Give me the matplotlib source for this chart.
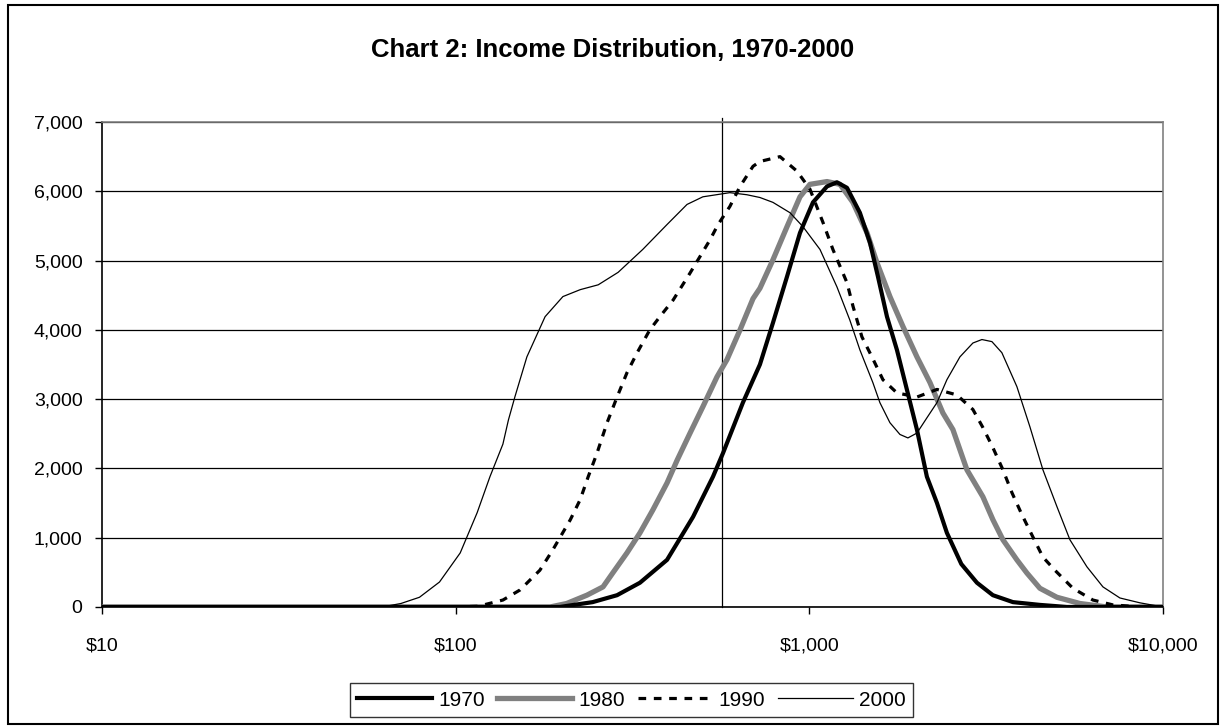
import matplotlib
matplotlib.use("Agg")
import matplotlib.pyplot as plt
from matplotlib.patches import Rectangle
from matplotlib.ticker import FixedLocator, FuncFormatter, NullLocator

plt.rcParams['font.family'] = ['Liberation Sans', 'DejaVu Sans']

# income ($, log scale) and counts
inc_1970 = [10, 100, 197, 244, 286, 332, 396, 469, 534, 570, 649, 725, 789, 865, 941,
            1024, 1122, 1197, 1278, 1390, 1484, 1563, 1658, 1769, 1887, 2015, 2150,
            2296, 2449, 2690, 2978, 3304, 3765, 4487, 5350, 10000]
val_1970 = [0, 0, 0, 70, 170, 350, 680, 1300, 1880, 2220, 2950, 3500, 4100, 4770, 5400,
            5840, 6070, 6130, 6050, 5690, 5260, 4770, 4190, 3710, 3140, 2560, 1880,
            1500, 1070, 620, 350, 170, 70, 30, 0, 0]

inc_1980 = [10, 100, 185, 206, 235, 261, 278, 305, 332, 361, 396, 423, 460, 500, 548,
            585, 637, 693, 725, 789, 865, 941, 1004, 1122, 1221, 1328, 1456, 1553, 1690,
            1839, 2015, 2193, 2386, 2547, 2790, 3096, 3304, 3527, 3863, 4123, 4487, 5012,
            5824, 6940, 10000]
val_1980 = [0, 0, 0, 50, 170, 290, 490, 780, 1070, 1400, 1790, 2120, 2510, 2890, 3320,
            3570, 4000, 4450, 4600, 5010, 5490, 5920, 6100, 6140, 6100, 5840, 5400, 4970, 4480,
            4050, 3610, 3240, 2800, 2560, 1980, 1590, 1260, 970, 680, 490, 270, 140,
            50, 0, 0]

inc_1990 = [10, 100, 115, 120, 136, 152, 173, 188, 211, 225, 237, 251, 268, 286, 305,
            326, 354, 378, 412, 460, 491, 524, 552, 596, 637, 693, 725, 826, 923, 1004,
            1093, 1166, 1278, 1329, 1408, 1503, 1615, 1769, 2015, 2296, 2614, 2901, 3096,
            3304, 3527, 3740, 3993, 4259, 4576, 4948, 5564, 6337, 7217, 8603, 10000]
val_1990 = [0, 0, 10, 30, 100, 245, 530, 820, 1260, 1550, 1880, 2220, 2660, 3030, 3380,
            3670, 4000, 4190, 4430, 4820, 5060, 5300, 5520, 5780, 6070, 6360, 6430, 6500, 6290, 6030,
            5550, 5160, 4680, 4340, 3900, 3610, 3280, 3090, 3030, 3140, 3060, 2850, 2590,
            2300, 1980, 1650, 1330, 1040, 720, 530, 270, 100, 30, 0, 0]

inc_2000 = [10, 50, 62, 70, 79, 90, 103, 115, 125, 136, 141, 147, 159, 179, 201, 225,
            253, 288, 338, 396, 451, 500, 596, 666, 725, 789, 882, 959, 1072, 1197, 1302,
            1390, 1512, 1583, 1690, 1804, 1900, 2015, 2150, 2296, 2449, 2666, 2901, 3076,
            3283, 3503, 3863, 4205, 4576, 5012, 5456, 6094, 6764, 7553, 8603, 10000]
val_2000 = [0, 0, 0, 50, 140, 360, 780, 1360, 1880, 2350, 2700, 3030, 3610, 4190, 4480, 4580,
            4650, 4830, 5160, 5520, 5810, 5920, 5980, 5950, 5910, 5840, 5690, 5490, 5160, 4620, 4140,
            3710, 3240, 2950, 2660, 2490, 2440, 2510, 2730, 2950, 3280, 3610, 3810, 3860,
            3830, 3670, 3180, 2600, 1980, 1450, 970, 580, 290, 130, 60, 0]

marker_income = 565
x_ticks = [10, 100, 1000, 10000]
y_ticks = [0, 1000, 2000, 3000, 4000, 5000, 6000, 7000]
title = "Chart 2: Income Distribution, 1970-2000"

fig = plt.figure(figsize=(12.26, 7.27), dpi=100)
ax = fig.add_axes([0.0832, 0.1651, 0.8654, 0.6671])

ax.plot(inc_1970, val_1970, color='black', lw=3.0, label='1970', zorder=4)
ax.plot(inc_1980, val_1980, color='#808080', lw=3.8, label='1980', zorder=3)
ax.plot(inc_1990, val_1990, color='black', lw=2.3, dashes=(2.4, 2.4), label='1990', zorder=5)
ax.plot(inc_2000, val_2000, color='black', lw=0.9, label='2000', zorder=6)
ax.axvline(marker_income, ymin=0, ymax=1.008, color='black', lw=0.9, clip_on=False, zorder=2)

ax.set_xscale('log')
ax.set_xlim(10, 10000)
ax.set_ylim(0, 7000)
ax.xaxis.set_major_locator(FixedLocator(x_ticks))
ax.xaxis.set_minor_locator(NullLocator())
ax.xaxis.set_major_formatter(FuncFormatter(lambda v, p: '${:,.0f}'.format(v)))
ax.set_yticks(y_ticks)
ax.yaxis.set_major_formatter(FuncFormatter(lambda v, p: '{:,.0f}'.format(v)))
ax.tick_params(axis='both', labelsize=14, length=5, width=1, direction='out', color='black')
ax.tick_params(axis='x', pad=17)
ax.tick_params(axis='y', pad=9)

ax.grid(axis='y', color='black', lw=0.9)
ax.set_axisbelow(True)
for side in ['top', 'right']:
    ax.spines[side].set_color('#808080')
    ax.spines[side].set_linewidth(1.2)
for side in ['left', 'bottom']:
    ax.spines[side].set_color('black')
    ax.spines[side].set_linewidth(1.2)

fig.text(0.5, 0.931, title, ha='center', va='center', fontsize=18.5, fontweight='bold')

leg = fig.legend(loc='center', bbox_to_anchor=(0.515, 0.037), ncol=4, fontsize=15,
                 frameon=True, fancybox=False, edgecolor='black', handlelength=3.6,
                 handletextpad=0.3, columnspacing=0.6, borderpad=0.35)
leg.get_frame().set_linewidth(1.0)

fig.patches.append(Rectangle((0.0065, 0.004), 0.9870, 0.989, transform=fig.transFigure,
                             fill=False, edgecolor='black', lw=1.5))

fig.savefig('out.png', dpi=100)
